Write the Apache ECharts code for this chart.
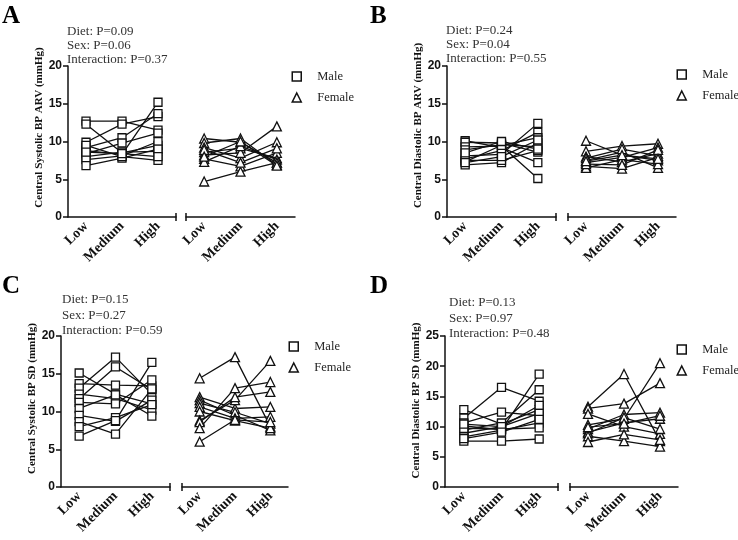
<!DOCTYPE html>
<html><head><meta charset="utf-8">
<script src="https://cdn.jsdelivr.net/npm/echarts@6/dist/echarts.min.js"></script>
<style>html,body{margin:0;padding:0;background:#fff}#c{width:738px;height:540px}</style>
</head><body><div id="c"></div>
<script>
// ---------- data ----------
const categories = ['Low', 'Medium', 'High'];
const legendNames = ['Male', 'Female'];
const panelLetters = ['A', 'B', 'C', 'D'];
const yTitles = ['Central Systolic BP ARV (mmHg)', 'Central Diastolic BP ARV (mmHg)',
                 'Central Systolic BP SD (mmHg)', 'Central Diastolic BP SD (mmHg)'];
const yMax = [20, 20, 20, 25];
const yInterval = [5, 5, 5, 5];
const statsA = ['Diet: P=0.09', 'Sex: P=0.06', 'Interaction: P=0.37'];
const statsB = ['Diet: P=0.24', 'Sex: P=0.04', 'Interaction: P=0.55'];
const statsC = ['Diet: P=0.15', 'Sex: P=0.27', 'Interaction: P=0.59'];
const statsD = ['Diet: P=0.13', 'Sex: P=0.97', 'Interaction: P=0.48'];

// each row = one subject: [Low, Medium, High]
const aMale = [
  [12.7, 12.7, 11.5], [12.3, 8.5, 9.5], [9.9, 12.3, 13.3], [9.2, 10.5, 13.7],
  [8.8, 8.3, 15.2], [8.4, 9.8, 11.1], [8.0, 8.6, 8.7], [7.6, 8.1, 10.0],
  [6.8, 7.8, 9.0], [9.5, 8.0, 7.5], [8.6, 8.4, 8.0]
];
const aFemale = [
  [10.4, 9.9, 7.2], [9.8, 10.4, 6.9], [9.2, 7.8, 9.9], [8.6, 9.1, 7.8],
  [8.2, 8.5, 12.0], [7.7, 6.7, 8.5], [7.3, 9.4, 7.6], [4.7, 6.0, 7.2],
  [8.9, 7.2, 9.1], [8.0, 10.0, 6.8]
];
const bMale = [
  [10.1, 9.2, 7.2], [9.9, 9.8, 8.6], [9.3, 9.4, 5.1], [8.9, 9.6, 9.3],
  [8.1, 8.3, 12.4], [7.7, 8.8, 11.2], [7.3, 9.5, 10.5], [6.9, 7.2, 9.8],
  [7.5, 7.5, 8.8], [8.5, 10.0, 9.0], [7.2, 8.0, 10.2]
];
const bFemale = [
  [10.1, 8.2, 7.5], [8.7, 9.4, 9.7], [8.0, 7.3, 8.4], [7.5, 8.6, 6.5],
  [7.2, 7.9, 9.2], [6.7, 6.4, 7.9], [6.5, 7.6, 7.0], [7.8, 9.0, 8.1],
  [7.0, 6.9, 8.9], [7.4, 8.2, 7.7]
];
const cMale = [
  [15.1, 12.3, 11.0], [13.7, 13.5, 13.4], [13.1, 17.2, 12.3], [12.3, 11.7, 10.2],
  [11.7, 15.9, 12.9], [11.2, 11.0, 14.2], [10.4, 12.2, 9.4], [9.5, 8.7, 11.5],
  [8.65, 7.0, 13.0], [8.0, 9.2, 10.9], [6.75, 8.8, 16.5]
];
const cFemale = [
  [14.4, 17.2, 8.0], [11.9, 10.4, 10.6], [11.5, 9.5, 7.5], [11.1, 9.9, 8.4],
  [10.6, 9.1, 9.3], [10.0, 8.8, 7.8], [8.8, 11.5, 16.7], [8.6, 11.9, 12.6],
  [7.8, 13.1, 13.9], [6.0, 8.9, 8.6]
];
const dMale = [
  [12.8, 10.4, 12.8], [11.4, 16.5, 14.2], [10.6, 12.4, 11.8], [10.1, 9.5, 18.7],
  [9.4, 10.6, 16.1], [8.9, 10.0, 13.5], [8.3, 9.4, 10.6], [7.6, 7.6, 7.95],
  [9.7, 9.6, 9.8], [10.4, 10.0, 12.2], [8.0, 9.1, 11.2]
];
const dFemale = [
  [13.3, 18.7, 7.6], [13.0, 13.8, 17.2], [12.1, 10.0, 8.8], [10.3, 11.3, 20.5],
  [9.6, 12.0, 12.3], [9.1, 10.6, 11.3], [8.9, 11.5, 9.6], [8.4, 7.6, 6.7],
  [7.45, 8.7, 7.8], [9.9, 10.5, 11.8]
];

// ---------- layout (positions only) ----------
const layout = [
  { g1: [68, 66, 108, 151], g2: [186, 66, 109, 151], legend: [291.5, 70], stats: [67, 25, 14], letter: [2, 4], nameGap: 19, nameShift: 28 },
  { g1: [447, 66, 109, 151], g2: [568, 66, 108, 151], legend: [676.5, 68], stats: [446, 24, 14], letter: [370, 4], nameGap: 23, nameShift: 32 },
  { g1: [61, 336, 109, 151], g2: [182, 336, 106, 151], legend: [288.5, 340], stats: [62, 292, 15.5], letter: [2, 274], nameGap: 22, nameShift: 26 },
  { g1: [445, 336, 113, 151], g2: [570, 336, 108, 151], legend: [676.5, 343], stats: [449, 295, 15.5], letter: [370, 274], nameGap: 16, nameShift: 22 }
];

const maleSets = [aMale, bMale, cMale, dMale];
const femaleSets = [aFemale, bFemale, cFemale, dFemale];
const statSets = [statsA, statsB, statsC, statsD];

const SERIF = '"Liberation Serif", "Times New Roman", serif';
const SANS = '"Liberation Sans", Arial, sans-serif';
const BLACK = '#111';

const grid = [], xAxis = [], yAxis = [], series = [], legend = [], title = [], graphic = [];

layout.forEach((L, p) => {
  [L.g1, L.g2].forEach((g, k) => {
    grid.push({ left: g[0], top: g[1], width: g[2], height: g[3], containLabel: false });
    const gi = grid.length - 1;
    xAxis.push({
      type: 'category', gridIndex: gi, data: categories, boundaryGap: true,
      axisLine: { lineStyle: { color: BLACK, width: 1.5 } },
      axisTick: { alignWithLabel: true, length: 5, lineStyle: { color: BLACK, width: 1.5 } },
      axisLabel: { rotate: 45, interval: 0, margin: 7, fontFamily: SERIF, fontWeight: 'bold', fontSize: 14, color: BLACK },
      splitLine: { show: false }
    });
    yAxis.push({
      type: 'value', gridIndex: gi, min: 0, max: yMax[p], interval: yInterval[p], show: k === 0,
      axisLine: { show: true, lineStyle: { color: BLACK, width: 1.5 } },
      axisTick: { show: true, length: 5, lineStyle: { color: BLACK, width: 1.5 } },
      axisLabel: { margin: 6, fontFamily: SANS, fontWeight: 'bold', fontSize: 12, color: BLACK },
      splitLine: { show: false },
      name: k === 0 ? yTitles[p] : '', nameLocation: 'middle', nameRotate: 90, nameGap: L.nameGap,
      nameTextStyle: { fontFamily: SERIF, fontWeight: 'bold', fontSize: 11, color: BLACK, padding: [0, 0, 0, L.nameShift] }
    });
  });
  const gMale = 2 * p, gFemale = 2 * p + 1;
  maleSets[p].forEach(row => series.push({
    type: 'line', name: 'Male', xAxisIndex: gMale, yAxisIndex: gMale, data: row,
    symbol: 'rect', symbolSize: 8, showAllSymbol: true,
    lineStyle: { color: BLACK, width: 1.3 },
    itemStyle: { color: '#fff', borderColor: BLACK, borderWidth: 1.3 },
    emphasis: { disabled: true }, silent: true
  }));
  femaleSets[p].forEach(row => series.push({
    type: 'line', name: 'Female', xAxisIndex: gFemale, yAxisIndex: gFemale, data: row,
    symbol: 'triangle', symbolSize: 9, showAllSymbol: true,
    lineStyle: { color: BLACK, width: 1.3 },
    itemStyle: { color: '#fff', borderColor: BLACK, borderWidth: 1.3 },
    emphasis: { disabled: true }, silent: true
  }));
  legend.push({
    data: [{ name: legendNames[0], icon: 'rect' }, { name: legendNames[1], icon: 'triangle' }],
    left: L.legend[0], top: L.legend[1], orient: 'vertical', selectedMode: false, padding: 0,
    itemWidth: 9, itemHeight: 9, itemGap: 8,
    itemStyle: { color: '#fff', borderColor: BLACK, borderWidth: 1.5 },
    textStyle: { fontFamily: SERIF, fontSize: 12.5, color: '#222', padding: [0, 0, 0, 11] }
  });
  title.push({
    text: statSets[p].join('\n'), left: L.stats[0], top: L.stats[1], padding: 0,
    textStyle: { fontFamily: SERIF, fontWeight: 'normal', fontSize: 13, color: '#333', lineHeight: L.stats[2] }
  });
  title.push({
    text: panelLetters[p], left: L.letter[0], top: L.letter[1], padding: 0,
    textStyle: { fontFamily: SERIF, fontWeight: 'bold', fontSize: 25, color: '#000' }
  });
  // axis break marks
  const axisY = L.g1[1] + L.g1[3];
  [L.g1[0] + L.g1[2], L.g2[0]].forEach(x => graphic.push({
    type: 'line', shape: { x1: x, y1: axisY - 4, x2: x, y2: axisY + 4 },
    style: { stroke: BLACK, lineWidth: 1.5 }, silent: true
  }));
});

const chart = echarts.init(document.getElementById('c'), null, { renderer: 'canvas' });
chart.setOption({ animation: false, backgroundColor: '#fff', grid, xAxis, yAxis, series, legend, title, graphic, tooltip: { show: false } });
</script></body></html>
